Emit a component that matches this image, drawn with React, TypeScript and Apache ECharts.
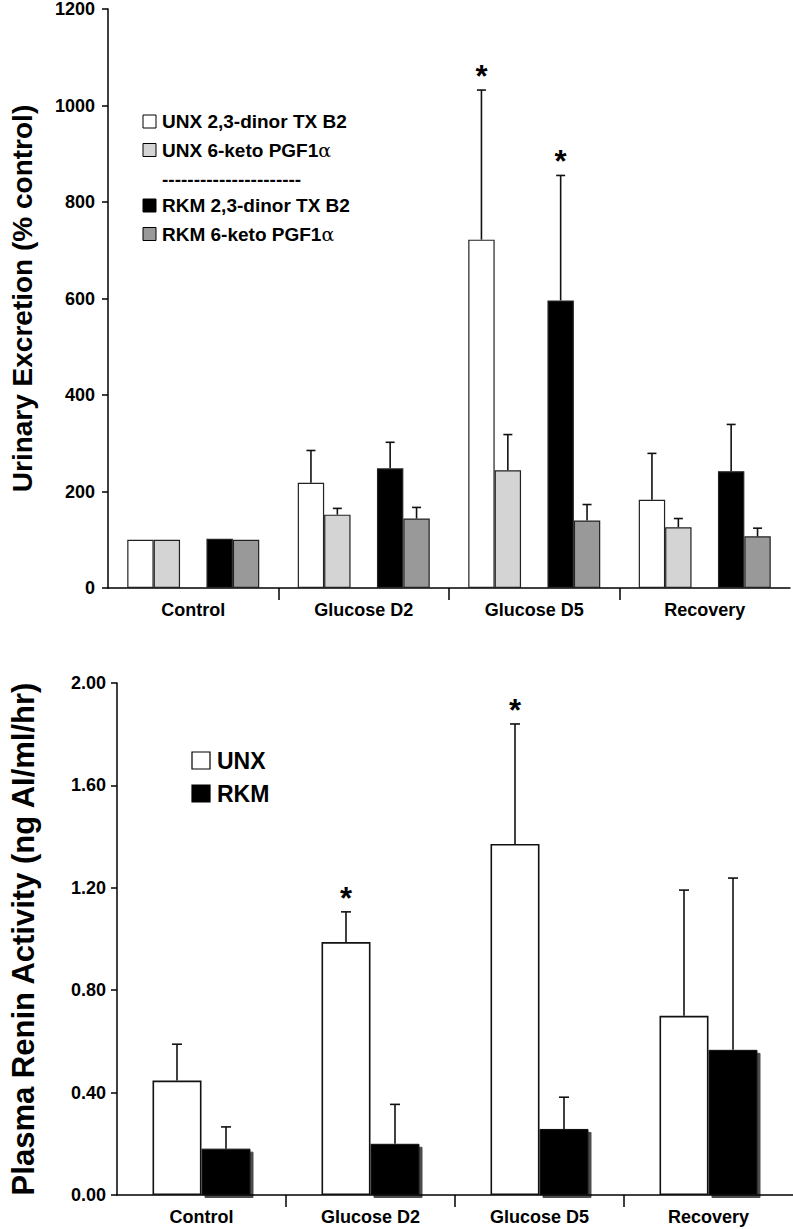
import React, { useEffect, useRef } from "react";
import * as echarts from "echarts";

const categories = ["Control", "Glucose D2", "Glucose D5", "Recovery"];

// Top panel: urinary excretion (% control)
const topNames = ["UNX 2,3-dinor TX B2", "UNX 6-keto PGF1", "RKM 2,3-dinor TX B2", "RKM 6-keto PGF1"];
const unxTx = [100, 218, 722, 183];
const unxTxErr = [0, 67, 310, 96];
const unxTxSig = [0, 0, 1, 0];
const unxPgf = [100, 152, 244, 126];
const unxPgfErr = [0, 13, 74, 18];
const unxPgfSig = [0, 0, 0, 0];
const rkmTx = [102, 248, 596, 242];
const rkmTxErr = [0, 54, 259, 97];
const rkmTxSig = [0, 0, 1, 0];
const rkmPgf = [100, 144, 140, 107];
const rkmPgfErr = [0, 23, 33, 17];
const rkmPgfSig = [0, 0, 0, 0];
const topTicks = [0, 200, 400, 600, 800, 1000, 1200];

// Bottom panel: plasma renin activity
const botNames = ["UNX", "RKM"];
const unxPra = [0.447, 0.988, 1.371, 0.7];
const unxPraErr = [0.142, 0.118, 0.469, 0.491];
const unxPraSig = [0, 1, 1, 0];
const rkmPra = [0.181, 0.2, 0.258, 0.567];
const rkmPraErr = [0.085, 0.154, 0.124, 0.671];
const rkmPraSig = [0, 0, 0, 0];
const botTicks = [0, 0.4, 0.8, 1.2, 1.6, 2.0];

const FONT = '"Liberation Sans", Arial, sans-serif';

function errSeries(
  xi: number,
  yi: number,
  vals: number[],
  errs: number[],
  sig: number[],
  offset: number,
  capW: number,
  starGap: number
) {
  return {
    type: "custom",
    xAxisIndex: xi,
    yAxisIndex: yi,
    z: 10,
    clip: false,
    silent: true,
    encode: { x: 0, y: [1, 2] },
    data: vals.map((v, i) => [i, v, v + errs[i], sig[i]]),
    renderItem: (params: any, api: any) => {
      const i = api.value(0);
      const v = api.value(1);
      const t = api.value(2);
      const s = api.value(3);
      const b = api.coord([i, v]);
      const tp = api.coord([i, t]);
      const x = b[0] + offset;
      const children: any[] = [];
      const ls = { stroke: "#111", lineWidth: 1.6 };
      if (t > v) {
        children.push({ type: "line", shape: { x1: x, y1: b[1], x2: x, y2: tp[1] }, style: ls });
        children.push({ type: "line", shape: { x1: x - capW / 2, y1: tp[1], x2: x + capW / 2, y2: tp[1] }, style: ls });
      }
      if (s) {
        children.push({
          type: "text",
          x: x,
          y: tp[1] - starGap,
          style: { text: "*", fill: "#000", font: "bold 31px " + FONT, align: "center", verticalAlign: "middle" },
        });
      }
      return { type: "group", children };
    },
  };
}

export default function App() {
  const ref = useRef<HTMLDivElement>(null);
  useEffect(() => {
    if (!ref.current) return;
    const chart = echarts.init(ref.current, null, { renderer: "svg" });
    const bwTop = 26.4;
    const bwBot = 49;
    const topBorder = { borderColor: "#222", borderWidth: 1.2 };
    const axisLineStyle = { color: "#000", width: 1.5 };
    const catAxis = (gridIndex: number) => ({
      type: "category",
      gridIndex,
      data: categories,
      position: "bottom",
      axisLine: { show: true, onZero: false, lineStyle: axisLineStyle },
      axisTick: { show: false },
      axisLabel: { color: "#000", fontFamily: FONT, fontWeight: "bold", fontSize: 18, margin: 13 },
      splitLine: { show: false },
    });
    const tickAxis = (gridIndex: number) => ({
      type: "value",
      gridIndex,
      min: 0,
      max: categories.length,
      interval: 1,
      position: "bottom",
      axisLine: { show: false, onZero: false },
      axisLabel: { show: false },
      splitLine: { show: false },
      axisTick: { show: true, length: 12, customValues: [1, 2, 3], lineStyle: { color: "#000", width: 1.5 } },
    });
    const option: any = {
      animation: false,
      backgroundColor: "#fff",
      grid: [
        { left: 106, right: 3, top: 7, height: 581 },
        { left: 108, right: 0, top: 683, height: 512 },
      ],
      xAxis: [catAxis(0), catAxis(1), tickAxis(0), tickAxis(1)],
      yAxis: [
        {
          type: "value",
          gridIndex: 0,
          min: topTicks[0],
          max: topTicks[topTicks.length - 1],
          interval: topTicks[1] - topTicks[0],
          name: "Urinary Excretion (% control)",
          nameLocation: "middle",
          nameGap: 72,
          nameTextStyle: { color: "#000", fontFamily: FONT, fontWeight: "bold", fontSize: 28 },
          axisLine: { show: true, onZero: false, lineStyle: axisLineStyle },
          axisTick: { show: true, length: 6, lineStyle: { color: "#000", width: 1.5 } },
          axisLabel: {
            color: "#000",
            fontFamily: FONT,
            fontWeight: "bold",
            fontSize: 18,
            margin: 13,
            formatter: (v: number) => String(v),
          },
          splitLine: { show: false },
        },
        {
          type: "value",
          gridIndex: 1,
          min: botTicks[0],
          max: botTicks[botTicks.length - 1],
          interval: botTicks[1] - botTicks[0],
          name: "Plasma Renin Activity (ng AI/ml/hr)",
          nameLocation: "middle",
          nameGap: 78,
          nameTextStyle: { color: "#000", fontFamily: FONT, fontWeight: "bold", fontSize: 31 },
          axisLine: { show: true, onZero: false, lineStyle: axisLineStyle },
          axisTick: { show: true, length: 6, lineStyle: { color: "#000", width: 1.5 } },
          axisLabel: {
            color: "#000",
            fontFamily: FONT,
            fontWeight: "bold",
            fontSize: 18,
            margin: 11,
            formatter: (v: number) => v.toFixed(2),
          },
          splitLine: { show: false },
        },
      ],
      series: [
        { type: "bar", name: topNames[0], xAxisIndex: 0, yAxisIndex: 0, data: unxTx, barWidth: bwTop, barGap: "0%", itemStyle: { color: "#fff", ...topBorder } },
        { type: "bar", name: topNames[1], xAxisIndex: 0, yAxisIndex: 0, data: unxPgf, barWidth: bwTop, barGap: "0%", itemStyle: { color: "#d4d4d4", ...topBorder } },
        { type: "bar", name: "spacer", xAxisIndex: 0, yAxisIndex: 0, data: categories.map(() => "-"), barWidth: bwTop, barGap: "0%", silent: true },
        { type: "bar", name: topNames[2], xAxisIndex: 0, yAxisIndex: 0, data: rkmTx, barWidth: bwTop, barGap: "0%", itemStyle: { color: "#000", ...topBorder } },
        { type: "bar", name: topNames[3], xAxisIndex: 0, yAxisIndex: 0, data: rkmPgf, barWidth: bwTop, barGap: "0%", itemStyle: { color: "#999", ...topBorder } },
        errSeries(0, 0, unxTx, unxTxErr, unxTxSig, -2 * bwTop, 9, 14),
        errSeries(0, 0, unxPgf, unxPgfErr, unxPgfSig, -1 * bwTop, 9, 14),
        errSeries(0, 0, rkmTx, rkmTxErr, rkmTxSig, 1 * bwTop, 9, 14),
        errSeries(0, 0, rkmPgf, rkmPgfErr, rkmPgfSig, 2 * bwTop, 9, 14),
        { type: "bar", name: botNames[0], xAxisIndex: 1, yAxisIndex: 1, data: unxPra, barWidth: bwBot, barGap: "0%", itemStyle: { color: "#fff", borderColor: "#111", borderWidth: 1.6 } },
        {
          type: "bar",
          name: botNames[1],
          xAxisIndex: 1,
          yAxisIndex: 1,
          data: rkmPra,
          barWidth: bwBot,
          barGap: "0%",
          itemStyle: { color: "#000", borderColor: "#111", borderWidth: 1, shadowColor: "rgba(0,0,0,0.7)", shadowOffsetX: 3, shadowOffsetY: 3, shadowBlur: 1 },
        },
        errSeries(1, 1, unxPra, unxPraErr, unxPraSig, -0.5 * bwBot, 10, 13),
        errSeries(1, 1, rkmPra, rkmPraErr, rkmPraSig, 0.5 * bwBot, 10, 13),
      ],
      graphic: [
        // top legend
        { type: "rect", shape: { x: 143, y: 115, width: 13, height: 13 }, style: { fill: "#fff", stroke: "#000", lineWidth: 1 } },
        { type: "text", x: 162, y: 121.5, style: { text: topNames[0], font: "bold 19px " + FONT, fill: "#000", verticalAlign: "middle" } },
        { type: "rect", shape: { x: 143, y: 143.5, width: 13, height: 13 }, style: { fill: "#d4d4d4", stroke: "#000", lineWidth: 1 } },
        {
          type: "text",
          x: 162,
          y: 150,
          style: {
            text: topNames[1] + "{a|α}",
            font: "bold 19px " + FONT,
            fill: "#000",
            verticalAlign: "middle",
            rich: { a: { fontFamily: "DejaVu Serif", fontWeight: "normal", fontSize: 19, fill: "#000" } },
          },
        },
        { type: "text", x: 162, y: 179, style: { text: "----------------------", font: "bold 19px " + FONT, fill: "#000", verticalAlign: "middle" } },
        { type: "rect", shape: { x: 143, y: 199, width: 13, height: 13 }, style: { fill: "#000", stroke: "#000", lineWidth: 1 } },
        { type: "text", x: 162, y: 205.5, style: { text: topNames[2], font: "bold 19px " + FONT, fill: "#000", verticalAlign: "middle" } },
        { type: "rect", shape: { x: 143, y: 227.5, width: 13, height: 13 }, style: { fill: "#999", stroke: "#000", lineWidth: 1 } },
        {
          type: "text",
          x: 162,
          y: 234,
          style: {
            text: topNames[3] + "{a|α}",
            font: "bold 19px " + FONT,
            fill: "#000",
            verticalAlign: "middle",
            rich: { a: { fontFamily: "DejaVu Serif", fontWeight: "normal", fontSize: 19, fill: "#000" } },
          },
        },
        // bottom legend
        { type: "rect", shape: { x: 192, y: 752, width: 18, height: 17 }, style: { fill: "#fff", stroke: "#000", lineWidth: 1.2 } },
        { type: "text", x: 217, y: 760.5, style: { text: botNames[0], font: "bold 23px " + FONT, fill: "#000", verticalAlign: "middle" } },
        { type: "rect", shape: { x: 192, y: 785, width: 18, height: 17 }, style: { fill: "#000", stroke: "#000", lineWidth: 1.2 } },
        { type: "text", x: 217, y: 793.5, style: { text: botNames[1], font: "bold 23px " + FONT, fill: "#000", verticalAlign: "middle" } },
      ],
    };
    chart.setOption(option);
    return () => chart.dispose();
  }, []);
  return <div ref={ref} style={{ position: "absolute", left: 0, top: 0, width: 793, height: 1229 }} />;
}
